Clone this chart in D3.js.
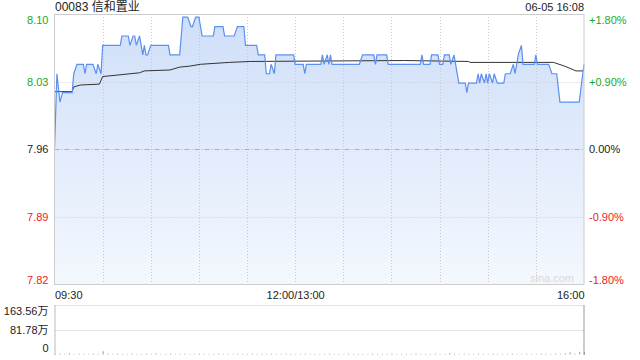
<!DOCTYPE html>
<html>
<head>
<meta charset="utf-8">
<script src="https://cdn.jsdelivr.net/npm/d3@7"></script>
<style>
  body { margin: 0; background: #fff; }
  svg text { font-family: "Liberation Sans", Arial, "Noto Sans CJK SC", sans-serif; font-size: 11px; }
</style>
</head>
<body>
<svg id="chart" width="640" height="360"></svg>
<script>
(function () {
    "use strict";

    var title = "00083 信和置业";
    var stamp = "06-05 16:08";
    var prevClose = 7.96;
    var pctTicks = [1.8, 0.9, 0, -0.9, -1.8];
    var timeTicks = [0, 30, 60, 90, 120, 150, 180, 210, 240, 270, 300, 330];
    var timeLabels = { 0: "09:30", 150: "12:00/13:00", 330: "16:00" };
    var volTicks = [0, 81.78, 163.56];
    var volLabels = ["0", "81.78万", "163.56万"];

    // minutes after 09:30 (lunch removed) and last price
    var priceMinutes = [0, 1.5, 3.4, 5, 11, 12, 14, 18, 19, 20, 24, 26, 27, 29, 30, 41, 42, 46, 47, 49, 50, 51, 53, 55, 56, 57, 58, 60, 71, 72, 78, 80, 83, 85, 86, 88, 90, 92, 99, 100, 105, 106, 112, 114, 118, 119, 126, 127, 131, 132, 134, 135, 137, 138, 149, 150, 155, 156, 157, 166, 167, 168, 170, 171, 172, 173, 190, 192, 199, 200, 201, 207, 208, 228, 229, 230, 234, 235, 239, 240, 242, 243, 246, 247, 249, 250, 252, 256, 257, 258, 263, 264, 265, 266, 268, 269, 270, 271, 273, 274, 276, 280, 281, 284, 286, 287, 288, 289, 291, 292, 299, 300, 301, 308, 310, 313, 315, 327, 330];
    var prices = [7.96, 8.04, 8.01, 8.02, 8.02, 8.04, 8.05, 8.05, 8.04, 8.05, 8.05, 8.04, 8.05, 8.04, 8.07, 8.07, 8.08, 8.08, 8.07, 8.08, 8.08, 8.07, 8.08, 8.06, 8.07, 8.06, 8.06, 8.07, 8.07, 8.06, 8.06, 8.10, 8.10, 8.09, 8.09, 8.10, 8.10, 8.08, 8.08, 8.09, 8.09, 8.08, 8.08, 8.09, 8.09, 8.07, 8.07, 8.06, 8.06, 8.04, 8.04, 8.05, 8.04, 8.06, 8.06, 8.05, 8.05, 8.04, 8.05, 8.05, 8.06, 8.05, 8.06, 8.05, 8.06, 8.05, 8.05, 8.06, 8.06, 8.05, 8.06, 8.06, 8.05, 8.05, 8.06, 8.05, 8.05, 8.06, 8.06, 8.05, 8.05, 8.06, 8.06, 8.05, 8.06, 8.05, 8.03, 8.03, 8.02, 8.03, 8.03, 8.04, 8.03, 8.04, 8.03, 8.04, 8.03, 8.04, 8.03, 8.04, 8.03, 8.03, 8.04, 8.04, 8.05, 8.04, 8.05, 8.06, 8.07, 8.05, 8.05, 8.06, 8.05, 8.05, 8.04, 8.04, 8.01, 8.01, 8.05];

    var avgMinutes = [0, 11, 12, 16, 28, 30, 53, 56, 72, 78, 84, 91, 109, 122, 218, 258, 259, 311, 318, 325, 330];
    var avgPrices = [8.021, 8.021, 8.026, 8.028, 8.029, 8.037, 8.041, 8.043, 8.044, 8.047, 8.048, 8.050, 8.052, 8.053, 8.054, 8.053, 8.052, 8.052, 8.048, 8.043, 8.043];

    // volume (万) every 3 minutes
    var volumes = [2, 3, 2, 4, 2, 3, 2, 2, 3, 2, 11, 3, 2, 3, 2, 2, 3, 2, 2, 3, 2, 4, 2, 2, 3, 2, 2, 3, 2, 2, 3, 2, 2, 2, 3, 2, 2, 2, 3, 2, 2, 3, 2, 2, 2, 3, 2, 2, 3, 2, 2, 2, 3, 2, 2, 2, 2, 3, 2, 2, 2, 3, 2, 2, 2, 2, 3, 2, 2, 2, 3, 2, 2, 2, 2, 3, 2, 2, 2, 3, 2, 2, 4, 2, 2, 3, 2, 2, 3, 2, 2, 3, 2, 2, 2, 3, 2, 2, 3, 2, 2, 3, 2, 2, 3, 2, 4, 7, 3, 9, 8];

    var green = "#22a822", red = "#ee2222", grid = "#c8c8c8";
    var margin = { left: 54.5, right: 584 };
    var svg = d3.select("#chart");

    var x = d3.scaleLinear().domain([0, 330]).range([margin.left, margin.right]);
    var yPct = d3.scaleLinear().domain([-1.8, 1.8]).range([284.5, 14]);
    var yPrice = d3.scaleLinear().domain([prevClose * 0.982, prevClose * 1.018]).range([284.5, 14]);
    var yVol = d3.scaleLinear().domain([0, 163.56]).range([354.5, 305]);

    var defs = svg.append("defs");
    var grad = defs.append("linearGradient").attr("id", "fillGrad")
        .attr("x1", 0).attr("y1", 0).attr("x2", 0).attr("y2", 1);
    grad.append("stop").attr("offset", "0%").attr("stop-color", "#cfdff9");
    grad.append("stop").attr("offset", "100%").attr("stop-color", "#f4f8fe");

    var pricePts = priceMinutes.map(function (m, i) { return [m, prices[i]]; });
    var avgPts = avgMinutes.map(function (m, i) { return [m, avgPrices[i]]; });

    // area under the price line
    svg.append("path").datum(pricePts)
        .attr("d", d3.area().x(function (d) { return x(d[0]); }).y0(284.5).y1(function (d) { return yPrice(d[1]); }))
        .attr("fill", "url(#fillGrad)");

    // vertical grid
    svg.append("g").selectAll("line").data(timeTicks.slice(1, -1)).enter().append("line")
        .attr("x1", function (d) { return Math.round(x(d)) + 0.5; })
        .attr("x2", function (d) { return Math.round(x(d)) + 0.5; })
        .attr("y1", 14).attr("y2", 284.5)
        .attr("stroke", grid).attr("stroke-dasharray", "1,2");

    // horizontal grid
    svg.append("g").selectAll("line").data(pctTicks.slice(1, -1)).enter().append("line")
        .attr("x1", margin.left).attr("x2", margin.right)
        .attr("y1", function (d) { return Math.round(yPct(d)) + 0.5; })
        .attr("y2", function (d) { return Math.round(yPct(d)) + 0.5; })
        .attr("stroke", function (d) { return d === 0 ? "#aab0b8" : grid; })
        .attr("stroke-dasharray", function (d) { return d === 0 ? "5,2,1,2" : "1,2"; });

    svg.append("text").attr("x", 574).attr("y", 282).attr("text-anchor", "end")
        .attr("fill", "#d8d8d8").style("font-size", "11px").text("sina.com");

    svg.append("path").datum(avgPts)
        .attr("d", d3.line().x(function (d) { return x(d[0]); }).y(function (d) { return yPrice(d[1]); }))
        .attr("fill", "none").attr("stroke", "#333").attr("stroke-width", 1);

    svg.append("path").datum(pricePts)
        .attr("d", d3.line().x(function (d) { return x(d[0]); }).y(function (d) { return yPrice(d[1]); }))
        .attr("fill", "none").attr("stroke", "#5b8ff2").attr("stroke-width", 1.2);

    // frame
    svg.append("rect").attr("x", margin.left).attr("y", 14.5)
        .attr("width", margin.right - margin.left).attr("height", 270)
        .attr("fill", "none").attr("stroke", "#cccccc");

    function colorFor(p) { return p > 0 ? green : (p < 0 ? red : "#222"); }
    function nudge(p) { return p === 1.8 ? 6 : (p === -1.8 ? -5 : 0); }

    // left axis: prices
    var leftAxis = svg.append("g").attr("transform", "translate(" + (margin.left - 3) + ",0)")
        .call(d3.axisLeft(yPct).tickValues(pctTicks).tickSize(0)
            .tickFormat(function (p) { return (prevClose * (1 + p / 100)).toFixed(2); }));
    leftAxis.select(".domain").remove();
    leftAxis.selectAll("text")
        .attr("fill", function (p) { return colorFor(p); })
        .attr("dy", function (p) { return (0.32 + nudge(p) / 11) + "em"; })
        .style("font-size", "11px");

    // right axis: percent
    var rightAxis = svg.append("g").attr("transform", "translate(" + (margin.right + 2) + ",0)")
        .call(d3.axisRight(yPct).tickValues(pctTicks).tickSize(0)
            .tickFormat(function (p) { return (p > 0 ? "+" : "") + p.toFixed(2) + "%"; }));
    rightAxis.select(".domain").remove();
    rightAxis.selectAll("text")
        .attr("fill", function (p) { return colorFor(p); })
        .attr("dy", function (p) { return (0.32 + nudge(p) / 11) + "em"; })
        .style("font-size", "11px");

    // time axis
    var timeAxis = svg.append("g").attr("transform", "translate(0,288)")
        .call(d3.axisBottom(x).tickValues([0, 150, 330]).tickSize(0)
            .tickFormat(function (m) { return timeLabels[m]; }));
    timeAxis.select(".domain").remove();
    timeAxis.selectAll("text").attr("fill", "#222").style("font-size", "11px")
        .attr("text-anchor", function (m) { return m === 0 ? "start" : (m === 330 ? "end" : "middle"); });

    // volume panel
    svg.append("g").selectAll("line").data(volTicks.slice(1)).enter().append("line")
        .attr("x1", margin.left).attr("x2", margin.right)
        .attr("y1", function (d) { return Math.round(yVol(d)) + 0.5; })
        .attr("y2", function (d) { return Math.round(yVol(d)) + 0.5; })
        .attr("stroke", grid).attr("stroke-dasharray", "1,1");
    svg.append("line").attr("x1", margin.left + 0.5).attr("x2", margin.left + 0.5)
        .attr("y1", 305).attr("y2", 355).attr("stroke", "#bbb");
    svg.append("line").attr("x1", margin.right).attr("x2", margin.right)
        .attr("y1", 305).attr("y2", 355).attr("stroke", "#999");

    svg.append("g").selectAll("rect").data(volumes).enter().append("rect")
        .attr("x", function (d, i) { return x(i * 3); })
        .attr("width", 1)
        .attr("y", function (d) { return yVol(d); })
        .attr("height", function (d) { return yVol(0) - yVol(d); })
        .attr("fill", "#999");

    var volAxis = svg.append("g").attr("transform", "translate(" + (margin.left - 3) + ",0)")
        .call(d3.axisLeft(yVol).tickValues(volTicks).tickSize(0)
            .tickFormat(function (d, i) { return volLabels[i]; }));
    volAxis.select(".domain").remove();
    volAxis.selectAll("text").attr("fill", "#222").style("font-size", "11px")
        .attr("dy", function (d) { return d === 163.56 ? "0.85em" : (d === 0 ? "-0.25em" : "0.32em"); });

    svg.append("text").attr("x", 55).attr("y", 11).attr("fill", "#222")
        .style("font-size", "12px").text(title);
    svg.append("text").attr("x", 584).attr("y", 11).attr("fill", "#222")
        .attr("text-anchor", "end").style("font-size", "11px").text(stamp);
})();
</script>
</body>
</html>
